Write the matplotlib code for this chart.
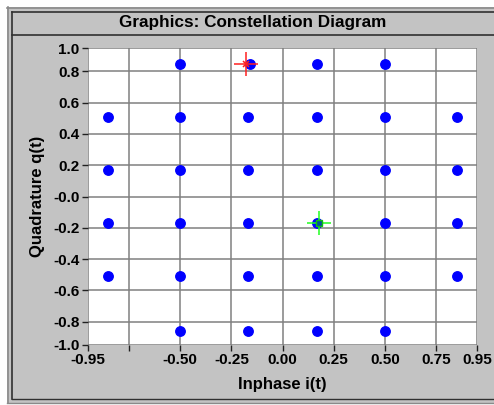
#Constellation diagram - 32 point cross constellation with two cursors
import numpy as np
import matplotlib
matplotlib.use("Agg")
import matplotlib.pyplot as plt
from matplotlib.patches import Rectangle
from matplotlib.lines import Line2D

#symbol positions (inphase, quadrature)
inphase = [-0.50, -0.16, 0.17, 0.50,
           -0.85, -0.50, -0.17, 0.17, 0.50, 0.85,
           -0.85, -0.50, -0.17, 0.17, 0.50, 0.85,
           -0.85, -0.50, -0.17, 0.17, 0.50, 0.85,
           -0.85, -0.50, -0.17, 0.17, 0.50, 0.85,
           -0.50, -0.17, 0.17, 0.50]
quadrature = [0.85, 0.85, 0.85, 0.85,
              0.51, 0.51, 0.51, 0.51, 0.51, 0.51,
              0.17, 0.17, 0.17, 0.17, 0.17, 0.17,
              -0.17, -0.17, -0.17, -0.17, -0.17, -0.17,
              -0.51, -0.51, -0.51, -0.51, -0.51, -0.51,
              -0.86, -0.86, -0.86, -0.86]

#cursor positions
cursor_red = (-0.18, 0.85)
cursor_green = (0.18, -0.17)

xticks = [-0.95, -0.75, -0.50, -0.25, 0.00, 0.25, 0.50, 0.75, 0.95]
xticklabels = ["-0.95", "", "-0.50", "-0.25", "0.00", "0.25", "0.50", "0.75", "0.95"]
yticks = [0.95, 0.8, 0.6, 0.4, 0.2, 0.0, -0.2, -0.4, -0.6, -0.8, -0.95]
yticklabels = ["1.0", "0.8", "0.6", "0.4", "0.2", "-0.0", "-0.2", "-0.4", "-0.6", "-0.8", "-1.0"]

plt.rcParams['font.family'] = ['Liberation Sans', 'DejaVu Sans']

W, H = 494, 405
fig = plt.figure(figsize=(W/100, H/100), dpi=100)
fig.patch.set_facecolor("white")

#window-like panel behind everything
def px(x, y):
    return x/W, 1 - y/H

panel_gray = "#c3c3c3"
fig.patches.append(Rectangle(px(7, 403), (W-7)/W, (403-7)/H, transform=fig.transFigure,
                             facecolor=panel_gray, edgecolor="none", zorder=-2))
def fline(x0, y0, x1, y1, color, lw):
    (a, b), (c, d) = px(x0, y0), px(x1, y1)
    fig.lines.append(Line2D([a, c], [b, d], transform=fig.transFigure, color=color, lw=lw, zorder=-1))

fline(8, 7, 8, 403, "#8a8a8a", 1.2)
fline(7, 8, W, 8, "#8a8a8a", 1.2)
fline(12, 12, 12, 399, "#303030", 1.2)
fline(12, 12, W, 12, "#303030", 1.2)
fline(12, 35, W, 35, "#303030", 1.2)
fline(12, 399, W, 399, "#303030", 1.0)
fline(7, 403, W, 403, "#8a8a8a", 1.0)

fig.text(253/W, 1 - 23/H, "Graphics: Constellation Diagram", ha="center", va="center",
         fontsize=12.3, fontweight="bold")

ax = fig.add_axes([88/W, 1 - 345/H, (477-88)/W, (345-48)/H])
ax.set_zorder(1)
ax.set_facecolor("white")
for s in ax.spines.values():
    s.set_visible(False)

ax.set_xlim(-0.95, 0.95)
ax.set_ylim(-0.95, 0.95)
ax.set_xticks(xticks)
ax.set_xticklabels(xticklabels)
ax.set_yticks(yticks)
ax.set_yticklabels(yticklabels)
ax.tick_params(axis='both', labelsize=11, length=4, width=1, color="#202020", pad=2)
for lab in ax.get_xticklabels() + ax.get_yticklabels():
    lab.set_fontweight("bold")
ax.grid(True, color="#808080", lw=1.1)
ax.set_axisbelow(True)

ax.plot(inphase, quadrature, 'o', color="#0000ff", ms=6.8, mec="#0000ff", zorder=3)

#cursors
ax.plot(*cursor_red, marker='+', color="#ff2020", ms=17, mew=1.1, zorder=4)
ax.plot(*cursor_red, marker='x', color="#ff2020", ms=4, mew=1.1, zorder=4)
ax.plot(*cursor_green, marker='+', color="#20ff20", ms=17, mew=1.1, zorder=4)
ax.plot(*cursor_green, marker='s', color="#0050a0", mec="#10c010", ms=4, mew=1, zorder=5)

ax.set_xlabel("Inphase i(t)", fontsize=12, fontweight="bold", labelpad=7)
ax.set_ylabel("Quadrature q(t)", fontsize=12, fontweight="bold", labelpad=6)

plt.savefig("out.png", dpi=100, facecolor=fig.get_facecolor())
